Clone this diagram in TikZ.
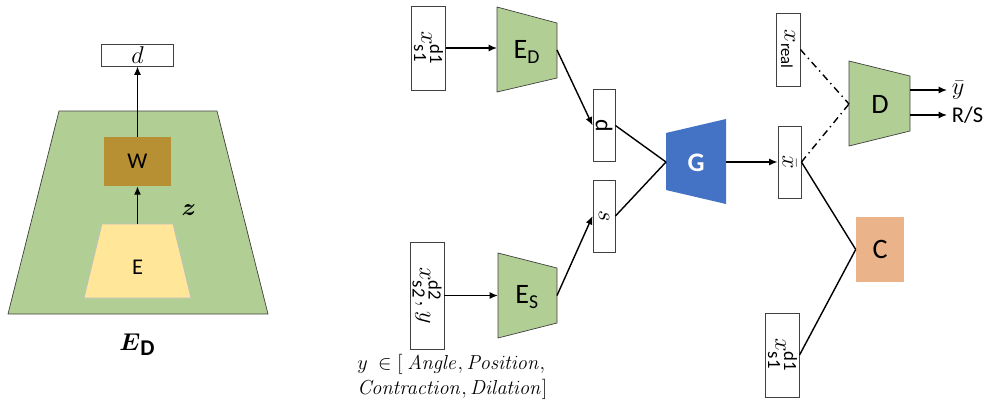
\documentclass[tikz,border=0pt]{standalone}
\usepackage{amsmath}
\usepackage[no-math]{fontspec}
\setmainfont{Carlito}
\usepackage{graphicx}
\definecolor{encgreen}{HTML}{B1CF95}
\definecolor{gblue}{HTML}{4472C4}
\definecolor{corange}{HTML}{EBB38A}
\definecolor{wbrown}{HTML}{B89034}
\definecolor{eyellow}{HTML}{FFE699}
\definecolor{edge}{HTML}{404040}
\usepackage{tikz}
\usetikzlibrary{arrows.meta}
\tikzstyle{base}=[x=0.025cm, y=-0.025cm]
\tikzstyle{vbox}=[draw=edge, line width=0.6pt, fill=white, inner sep=0pt, minimum width=0.55cm, minimum height=1.8cm, font=\fontsize{17}{19}\selectfont]
\tikzstyle{wide}=[vbox, minimum width=0.83cm, minimum height=2.1cm, font=\fontsize{19}{21}\selectfont]
\tikzstyle{enc}=[draw=edge, line width=0.5pt, fill=encgreen]
\tikzstyle{link}=[black, line width=1pt]
\tikzstyle{flow}=[link, -{Latex[length=6pt, width=5pt]}]
\tikzstyle{disc}=[link, dash pattern=on 5pt off 3pt on 1pt off 3pt]
\tikzstyle{big}=[font=\fontsize{20}{24}\selectfont]
\tikzstyle{small}=[font=\fontsize{16}{18}\selectfont]

\begin{document}
\begin{tikzpicture}[base]
    \useasboundingbox (0,0) rectangle (984,402);
        \draw [enc] (59,111) -- (217,111) -- (268,314) -- (8,314) -- cycle;
        \draw [draw=lightgray, line width=0.5pt, fill=eyellow] (102,224) -- (173,224) -- (191,298) -- (84,298) -- cycle;
        \coordinate (Etop) at (137.5,224);
        \node [small] (E) at (137.5,267) {E};
        \node [small, fill=wbrown, minimum width=1.675cm, minimum height=1.225cm] (W) at (137.5,161.5) {W};
        \node [vbox, minimum width=1.8cm, minimum height=0.55cm, font=\fontsize{16}{18}\selectfont] (dL) at (137.5,55) {$d$};
        \node [font=\fontsize{19}{21}\selectfont] (z) at (189,210) {$\boldsymbol{z}$};
        \node (EDname) at (137,345) {{\fontsize{19}{21}\selectfont$\boldsymbol{E}$}{\fontsize{16}{18}\selectfont\bfseries\raisebox{-3.5pt}{D}}};
        \draw [flow] (Etop) -- (W);
        \draw [flow] (W) -- (dL);

        \node [wide] (xa) at (428.5,48) {\rotatebox{-90}{$x^{\text{d1}}_{\text{s1}}$}};
        \draw [enc] (497,7) -- (557,23) -- (557,78) -- (497,92) -- cycle;
        \coordinate (EDin) at (497,48);
        \coordinate (EDout) at (557,50);
        \node [big] (ED) at (527,52) {E\textsubscript{D}};
        \draw [flow] (xa) -- (EDin);

        \node [wide, minimum width=0.85cm, minimum height=2.675cm] (xb) at (427,295.5) {\rotatebox{-90}{$x^{\text{d2}}_{\text{s2}},y$}};
        \draw [enc] (498,253) -- (557,268) -- (557,323) -- (498,338) -- cycle;
        \coordinate (ESin) at (498,295.5);
        \coordinate (ESout) at (557,295.5);
        \node [big] (ES) at (527,297) {E\textsubscript{S}};
        \draw [flow] (xb) -- (ESin);
        \node [anchor=west, align=left, inner sep=0pt, font=\fontsize{15}{17.8}\selectfont] (yset) at (357,377) {$y\ \in[\ \mathit{Angle},\mathit{Position},$\\$\mathit{Contraction},\mathit{Dilation}]$};

        \node [vbox] (dcode) at (604,125.5) {\rotatebox{-90}{d}};
        \node [vbox] (scode) at (604,216) {\rotatebox{-90}{$s$}};
        \draw [flow] (EDout) -- (dcode.west);
        \draw [flow] (ESout) -- (scode.west);

        \fill [gblue] (666,133) -- (726,119) -- (726,204) -- (666,190) -- cycle;
        \coordinate (Gin) at (666,162);
        \coordinate (Gout) at (726,162);
        \node [white, font=\fontsize{19}{22}\selectfont\bfseries] (G) at (696,163) {G};
        \draw [link] (dcode.east) -- (Gin);
        \draw [link] (scode.east) -- (Gin);

        \node [vbox, minimum width=0.575cm] (xbar) at (789.5,162) {\rotatebox{-90}{$\bar{x}$}};
        \node [vbox, minimum width=0.6cm, minimum height=1.825cm] (xreal) at (788,49.5) {\rotatebox{-90}{$x_{\text{real}}$}};
        \draw [flow] (Gout) -- (xbar);

        \draw [enc] (849,61) -- (910,76) -- (910,131) -- (849,146) -- cycle;
        \coordinate (Din) at (849,104);
        \coordinate (Dy) at (910,90);
        \coordinate (Drs) at (910,115);
        \node [big] (D) at (880,104) {D};
        \draw [disc] (xreal.east) -- (Din);
        \draw [disc] (xbar.east) -- (Din);
        \node [anchor=west, font=\fontsize{18}{20}\selectfont] (ybar) at (947,90) {$\bar{y}$};
        \node [anchor=west, font=\fontsize{16}{18}\selectfont] (rs) at (947,115) {R/S};
        \draw [flow] (Dy) -- (ybar.west);
        \draw [flow] (Drs) -- (rs.west);

        \node [big, fill=corange, minimum width=1.2cm, minimum height=1.625cm] (C) at (880,249.5) {C};
        \node [wide] (xc) at (782.5,355) {\rotatebox{-90}{$x^{\text{d1}}_{\text{s1}}$}};
        \draw [link] (xbar.east) -- (C.west);
        \draw [link] (xc.east) -- (C.west);
    \end{tikzpicture}
\end{document}
